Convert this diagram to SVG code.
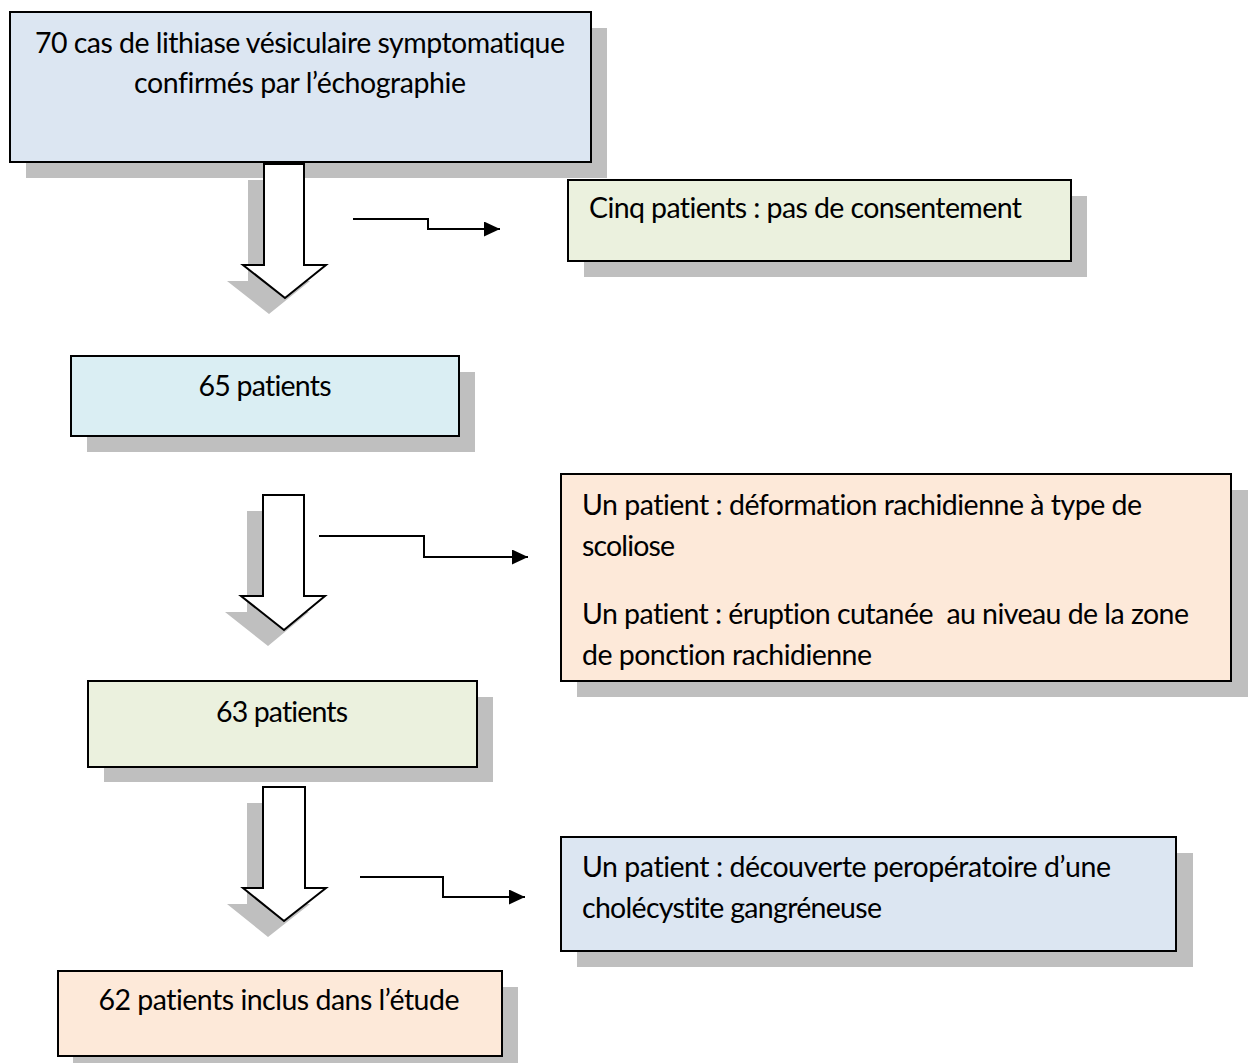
<svg xmlns="http://www.w3.org/2000/svg" width="1248" height="1063" viewBox="0 0 1248 1063">
<defs>
<style>
.box{stroke:#000;stroke-width:2}
.sh{fill:#BFBFBF}
.t{font-family:Lato,"Liberation Sans",sans-serif;font-size:28.5px;fill:#000;font-variant-ligatures:none;font-feature-settings:"liga" 0}
.c{text-anchor:middle}
.blk{fill:#fff;stroke:#000;stroke-width:2;stroke-linejoin:miter}
.el{fill:none;stroke:#000;stroke-width:2}
</style>
<marker id="ah" markerWidth="17" markerHeight="15" refX="16" refY="7.5" orient="auto" markerUnits="userSpaceOnUse">
<path d="M0,0 L16,7.5 L0,15 Z" fill="#000"/>
</marker>
</defs>
<rect width="1248" height="1063" fill="#fff"/>

<g id="n1">
<rect class="sh" x="26" y="28" width="581" height="150"/>
<rect class="box" x="10" y="12" width="581" height="150" fill="#DCE6F2"/>
<text class="t c" x="300" y="53" textLength="530">70 cas de lithiase vésiculaire symptomatique</text>
<text class="t c" x="300" y="93" textLength="332">confirmés par l’échographie</text>
</g>

<g id="n2">
<rect class="sh" x="584" y="196" width="503" height="81"/>
<rect class="box" x="568" y="180" width="503" height="81" fill="#EBF1DE"/>
<text class="t" x="589" y="218" textLength="433">Cinq patients : pas de consentement</text>
</g>

<g id="n3">
<rect class="sh" x="87" y="372" width="388" height="80"/>
<rect class="box" x="71" y="356" width="388" height="80" fill="#DAEEF3"/>
<text class="t c" x="265" y="396" textLength="133">65 patients</text>
</g>

<g id="n4">
<rect class="sh" x="577" y="490" width="680" height="207"/>
<rect class="box" x="561" y="474" width="670" height="207" fill="#FDE9D9"/>
<text class="t" x="582" y="515" textLength="560">Un patient : déformation rachidienne à type de</text>
<text class="t" x="582" y="556" textLength="93">scoliose</text>
<text class="t" x="582" y="624" textLength="607" xml:space="preserve">Un patient : éruption cutanée  au niveau de la zone</text>
<text class="t" x="582" y="665" textLength="290">de ponction rachidienne</text>
</g>

<g id="n5">
<rect class="sh" x="104" y="697" width="389" height="85"/>
<rect class="box" x="88" y="681" width="389" height="86" fill="#EBF1DE"/>
<text class="t c" x="282" y="722" textLength="132">63 patients</text>
</g>

<g id="n6">
<rect class="sh" x="577" y="853" width="616" height="114"/>
<rect class="box" x="561" y="837" width="615" height="114" fill="#DCE6F2"/>
<text class="t" x="582" y="877" textLength="529">Un patient : découverte peropératoire d’une</text>
<text class="t" x="582" y="918" textLength="300">cholécystite gangréneuse</text>
</g>

<g id="n7">
<rect class="sh" x="73" y="987" width="445" height="85"/>
<rect class="box" x="58" y="971" width="444" height="85" fill="#FDE9D9"/>
<text class="t c" x="279" y="1010" textLength="361">62 patients inclus dans l’étude</text>
</g>

<g id="connectors">
<polygon class="sh" points="248,180 288,180 288,281 310,281 269,314 227,281 248,281"/>
<polygon class="blk" points="264,164 304,164 304,265 326,265 285,298 243,265 264,265"/>
<polygon class="sh" points="247,511 288,511 288,612 309,612 268,646 225,612 247,612"/>
<polygon class="blk" points="263,495 304,495 304,596 325,596 284,630 241,596 263,596"/>
<polygon class="sh" points="247,803 289,803 289,904 310,904 268,937 227,904 247,904"/>
<polygon class="blk" points="263,787 305,787 305,888 326,888 284,921 243,888 263,888"/>
<path class="el" d="M353,219 H428 V229 H500" marker-end="url(#ah)"/>
<path class="el" d="M319,536 H424 V557 H528" marker-end="url(#ah)"/>
<path class="el" d="M360,877 H443 V897 H525" marker-end="url(#ah)"/>
</g>
</svg>
